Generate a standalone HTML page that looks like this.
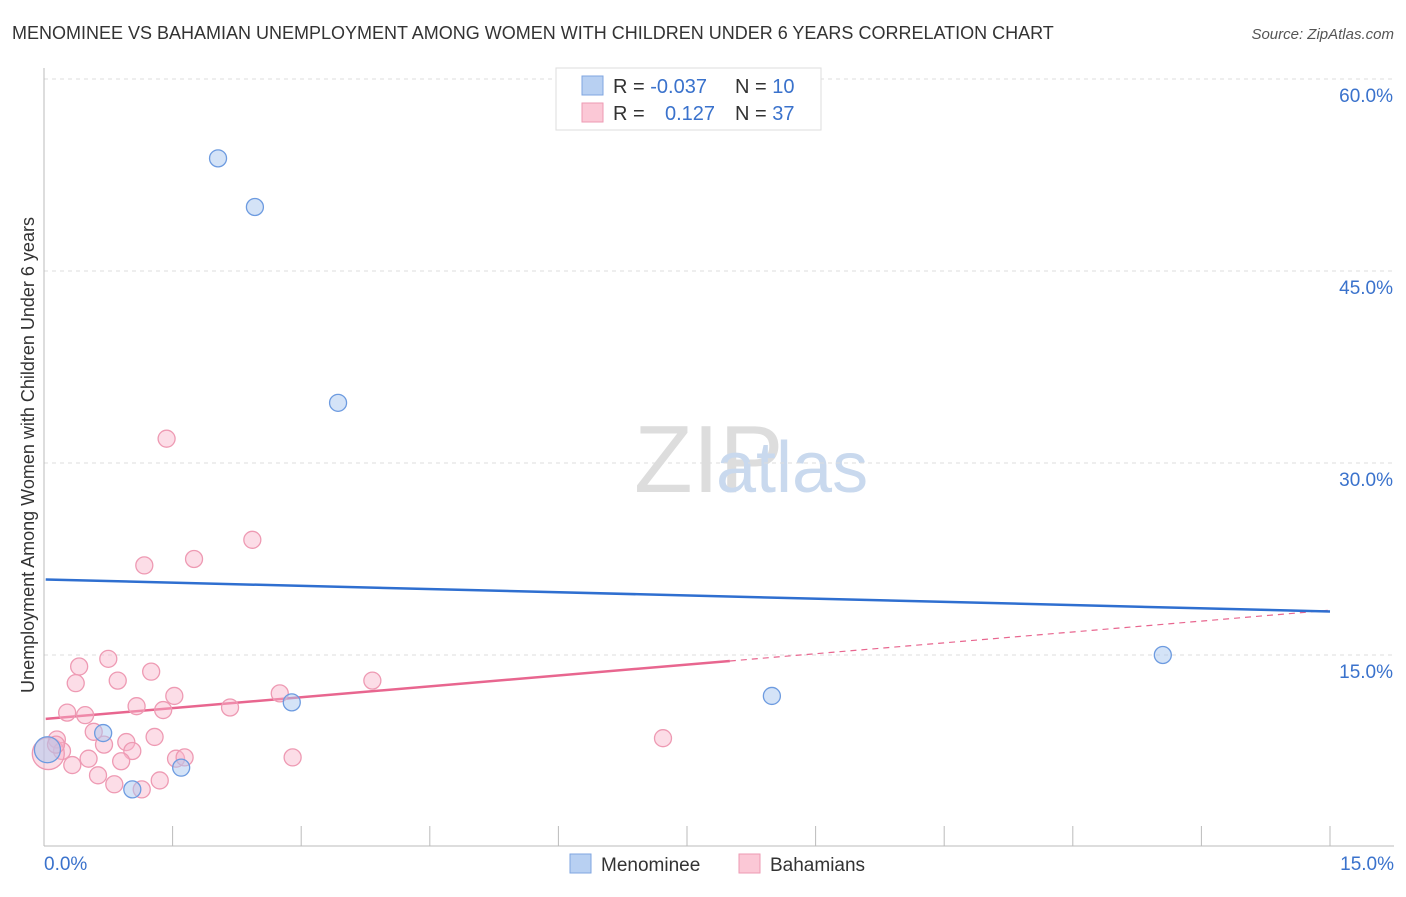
<!DOCTYPE html>
<html><head><meta charset="utf-8"><style>
body{margin:0;background:#fff;font-family:"Liberation Sans",sans-serif}
svg text{font-family:"Liberation Sans",sans-serif}
</style></head><body>
<svg id="chart" width="1406" height="892" xmlns="http://www.w3.org/2000/svg">
<text x="12" y="39" font-size="18" fill="#333">MENOMINEE VS BAHAMIAN UNEMPLOYMENT AMONG WOMEN WITH CHILDREN UNDER 6 YEARS CORRELATION CHART</text>
<text x="1394" y="39" font-size="15" fill="#555" text-anchor="end" font-style="italic">Source: ZipAtlas.com</text>
<text x="634" y="492" font-size="96" fill="#ddd" font-family="Liberation Serif">ZIP</text>
<text x="716" y="492" font-size="72" fill="#c9d9ee">atlas</text>
<text transform="translate(34,455) rotate(-90)" font-size="18" fill="#333" text-anchor="middle">Unemployment Among Women with Children Under 6 years</text>
<g id="grid"></g><g id="axes"></g><g id="trends"></g><g id="points"></g>
<g>
<rect x="556" y="68" width="265" height="62" fill="#fff" stroke="#ddd"/>
<rect x="582" y="76" width="21" height="19" fill="#b8d0f2" stroke="#7fa6e0"/>
<rect x="582" y="103" width="21" height="19" fill="#fbc8d6" stroke="#ee9ab3"/>
<text x="613" y="93" font-size="20" fill="#333">R = <tspan fill="#3a72cc">-0.037</tspan><tspan x="735">N = </tspan><tspan fill="#3a72cc">10</tspan></text>
<text x="613" y="120" font-size="20" fill="#333">R = <tspan x="665" fill="#3a72cc">0.127</tspan><tspan x="735">N = </tspan><tspan fill="#3a72cc">37</tspan></text>
</g>
<g>
<rect x="570" y="854" width="21" height="19" fill="#b8d0f2" stroke="#7fa6e0"/>
<text x="601" y="871" font-size="19" fill="#333">Menominee</text>
<rect x="739" y="854" width="21" height="19" fill="#fbc8d6" stroke="#ee9ab3"/>
<text x="770" y="871" font-size="19" fill="#333">Bahamians</text>
</g>
</svg>
<script>
const yTicks=[15,30,45,60];
const yTickLabels=["15.0%","30.0%","45.0%","60.0%"];
const xTickLabels=["0.0%","15.0%"];
const menX=[2.03,2.46,3.43,13.05,8.49,2.89,0.69,1.60,1.03,0.04];
const menY=[53.8,50.0,34.7,15.0,11.8,11.3,8.9,6.2,4.5,7.6];
const bahX=[1.43,2.43,1.75,1.17,0.41,0.75,0.37,0.86,1.25,0.27,0.48,1.08,1.39,1.52,2.17,2.75,3.83,0.58,0.15,0.21,0.70,0.96,1.03,1.29,0.52,0.33,0.90,1.54,1.64,2.90,0.63,0.82,1.14,1.35,0.05,7.22,0.14];
const bahY=[31.9,24.0,22.5,22.0,14.1,14.7,12.8,13.0,13.7,10.5,10.3,11.0,10.7,11.8,10.9,12.0,13.0,9.0,8.4,7.5,8.0,8.2,7.5,8.6,6.9,6.4,6.7,6.9,7.0,7.0,5.6,4.9,4.5,5.2,7.3,8.5,8.0];
const menTrend=[20.9,18.4];
const bahTrend=[10.0,18.5];
const NS="http://www.w3.org/2000/svg";
const X=v=>44+v/15*1286, Y=v=>847-v/15*192;
function mk(p,t,a){const e=document.createElementNS(NS,t);for(const k in a)e.setAttribute(k,a[k]);document.getElementById(p).appendChild(e);return e;}
yTicks.forEach((t,i)=>{
 const l=mk('grid','line',{x1:44,x2:1394,y1:Y(t),y2:Y(t),stroke:'#ddd','stroke-dasharray':'4,4'});
 
 
 const tx=mk('grid','text',{x:1393,y:Y(t)+23,'font-size':19,fill:'#3a72cc','text-anchor':'end'});
 tx.textContent=yTickLabels[i];
 
 
});
const ax=mk('axes','line',{x1:44,x2:44,y1:68,y2:846,stroke:'#bbb'});


const bx=mk('axes','line',{x1:44,x2:1394,y1:846,y2:846,stroke:'#bbb'});


for(let i=1;i<=10;i++){const t=mk('axes','line',{x1:X(i*1.5),x2:X(i*1.5),y1:826,y2:846,stroke:'#bbb'});
 
 }
[[0,'start',44],[15,'end',1394]].forEach((d,i)=>{const t=mk('axes','text',{x:d[2],y:870,'font-size':19,fill:'#3a72cc','text-anchor':d[1]});t.textContent=xTickLabels[i];
 
 });
const bm=v=>bahTrend[0]+(bahTrend[1]-bahTrend[0])*v/15;
let l1=mk('trends','line',{x1:X(0.02),y1:Y(bm(0.02)),x2:X(8.0),y2:Y(bm(8.0)),stroke:'#e8668f','stroke-width':2.5});


let l2=mk('trends','line',{x1:X(8.0),y1:Y(bm(8.0)),x2:X(15),y2:Y(bm(15)),stroke:'#e8668f','stroke-width':1.2,'stroke-dasharray':'6,5'});


let l3=mk('trends','line',{x1:X(0.02),y1:Y(menTrend[0]),x2:X(15),y2:Y(menTrend[1]),stroke:'#2f6fd0','stroke-width':2.5});


bahX.forEach((x,i)=>{const big=i===34;const c=mk('points','circle',{cx:X(x),cy:Y(bahY[i]),r:big?16:8.5,fill:'rgba(248,180,202,0.45)',stroke:'#ee9ab3','stroke-width':1.3});
 
 });
menX.forEach((x,i)=>{const big=i===9;const c=mk('points','circle',{cx:X(x),cy:Y(menY[i]),r:big?13:8.5,fill:'rgba(170,200,240,0.5)',stroke:'#6d9be0','stroke-width':1.3});
 
 });
</script>
</body></html>
